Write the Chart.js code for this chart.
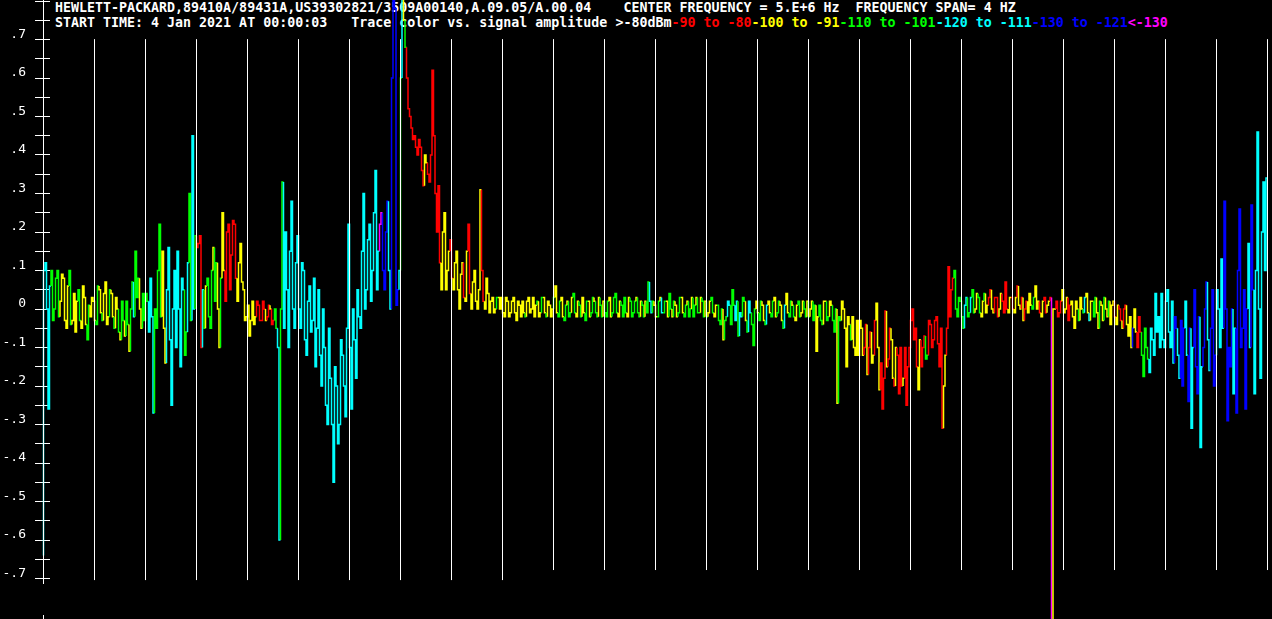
<!DOCTYPE html>
<html>
<head>
<meta charset="utf-8">
<script src="https://cdn.jsdelivr.net/npm/chart.js@4.4.1/dist/chart.umd.min.js"></script>
<style>
html,body{margin:0;padding:0;background:#000;}
#wrap{position:relative;width:1272px;height:619px;overflow:hidden;background:#000;}
#chart{position:absolute;left:0;top:0;z-index:1;}
.hdr{position:absolute;left:55px;font-family:"DejaVu Sans Mono",monospace;font-size:13.3px;font-weight:bold;line-height:15px;color:#fff;white-space:pre;z-index:0;}
</style>
</head>
<body>
<div id="wrap">
  <div class="hdr" id="line1" style="top:0px"></div>
  <div class="hdr" id="line2" style="top:15px"></div>
  <canvas id="chart" width="1272" height="619"></canvas>
</div>
<script>
// ---------- text ----------
const headerLine1 = "HEWLETT-PACKARD,89410A/89431A,US39302821/3509A00140,A.09.05/A.00.04    CENTER FREQUENCY = 5.E+6 Hz  FREQUENCY SPAN= 4 HZ";
const headerLine2 = "START TIME: 4 Jan 2021 AT 00:00:03   Trace color vs. signal amplitude >-80dBm";
const bandLabels = ["-90 to -80", "-100 to -91", "-110 to -101", "-120 to -111", "-130 to -121", "<-130"];
const bandColors = ["#ff0000", "#ffff00", "#00ff00", "#00ffff", "#0000ff", "#ff00ff"];
const yTickLabels = [".7", ".6", ".5", ".4", ".3", ".2", ".1", "0", "-.1", "-.2", "-.3", "-.4", "-.5", "-.6", "-.7"];

// ---------- trace: samples on whole steps (17 per division, 24 divisions) ----------
const traceValuesA = [
  -0.64, 0.12, -0.26, 0.1, 0.0, 0.1, 0.02, 0.08, -0.05, 0.1, -0.03, -0.06, 0.05, -0.05, 0.03, -0.08, -0.02,
  0.02, -0.04, 0.05, -0.03, 0.07, -0.02, 0.04, -0.05, 0.0, -0.08, -0.03, 0.02, -0.11, 0.07, 0.15, 0.08, -0.05,
  -0.03, 0.02, 0.08, -0.27, -0.05, 0.22, 0.15, -0.14, 0.16, -0.25, 0.1, 0.15, -0.15, 0.05, -0.06, 0.3, 0.45,
  0.19, 0.17, -0.1, -0.05, 0.08, -0.05, 0.16, 0.12, -0.1, 0.25, 0.02, 0.22, 0.14, 0.22, 0.02, 0.17, 0.05,
  -0.02, -0.07, 0.02, -0.02, 0.01, -0.03, 0.0, -0.02, 0.0, -0.03, -0.05, -0.6, 0.33, 0.2, -0.1, 0.28, -0.05,
  0.19, -0.05, 0.1, -0.12, 0.06, -0.03, -0.15, 0.05, -0.2, -0.1, -0.3, -0.18, -0.45, -0.2, -0.3, -0.12, -0.28,
  0.22, -0.26, -0.08, 0.05, -0.05, 0.3, 0.05, 0.22, 0.1, 0.36, 0.15, 0.25, 0.05, 0.28, 0.0, 0.82, 0.01,
  0.1, 0.82, 0.68, 0.52, 0.47, 0.45, 0.4, 0.42, 0.32, 0.38, 0.33, 0.62, 0.3, 0.32, 0.05, 0.25, 0.1,
  0.18, 0.05, 0.15, 0.0, 0.12, 0.02, 0.22, 0.0, 0.1, 0.0, 0.31, 0.02, 0.08, -0.01, 0.03, 0.0, 0.03,
  0.03, -0.02, 0.02, -0.01, 0.03, -0.03, 0.01, 0.02, -0.02, 0.03, 0.0, -0.02, 0.02, -0.01, 0.03, -0.02, 0.01,
  0.0, 0.06, -0.02, 0.03, -0.03, 0.02, -0.01, 0.04, -0.02, 0.01, 0.03, -0.03, 0.02, -0.01, 0.02, -0.02, 0.01,
  0.02, -0.02, 0.03, -0.01, 0.04, -0.02, 0.01, 0.03, -0.02, 0.02, -0.01, 0.03, -0.02, 0.01, 0.02, 0.07, -0.01,
  0.01, -0.02, 0.03, -0.01, 0.02, 0.04, -0.02, 0.01, -0.01, 0.03, -0.02, 0.02, 0.0, -0.02, 0.03, -0.01, 0.02,
  0.02, -0.01, 0.03, -0.02, 0.01, -0.04, -0.08, -0.02, 0.01, 0.05, -0.03, -0.07, -0.02, 0.02, -0.06, -0.01, -0.095,
  0.02, -0.03, 0.01, -0.04, 0.02, -0.02, 0.03, -0.01, 0.01, -0.05, 0.04, -0.02, 0.01, -0.03, 0.02, -0.01, 0.0,
  0.02, 0.0, -0.03, -0.11, 0.01, -0.04, 0.02, -0.02, 0.01, -0.06, -0.245, -0.03, 0.0, -0.15, -0.04, -0.02, -0.12,
  -0.12, -0.05, -0.1, -0.17, -0.06, -0.12, 0.015, -0.21, -0.26, -0.005, -0.13, -0.08, -0.2, -0.12, -0.1, -0.18, -0.25,
  -0.1, 0.0, -0.05, -0.21, -0.15, -0.07, -0.12, -0.04, -0.08, -0.02, -0.15, -0.31, -0.12, 0.11, 0.05, 0.1, -0.02,
  0.02, -0.05, 0.03, -0.01, 0.05, 0.0, 0.03, -0.02, 0.04, 0.01, 0.05, -0.01, 0.03, 0.0, 0.02, 0.07, -0.01,
  0.03, -0.01, 0.06, 0.0, -0.03, 0.02, 0.04, 0.0, 0.06, 0.02, -0.02, 0.03, 0.01, 0.03, 0.0, 0.02, -0.01,
  0.05, 0.0, -0.03, 0.02, -0.05, 0.0, 0.03, -0.01, 0.04, -0.03, 0.02, 0.03, -0.05, 0.01, 0.03, -0.02, -0.04,
  0.02, -0.04, 0.0, -0.05, 0.01, -0.07, -0.1, 0.0, -0.1, -0.06, -0.175, -0.1, -0.165, -0.08, 0.04, -0.02, 0.04,
  -0.1, 0.05, -0.1, -0.14, -0.05, -0.18, -0.2, 0.02, -0.24, -0.31, 0.05, -0.22, -0.36, -0.1, 0.07, -0.16, 0.05,
  -0.12, 0.0, 0.13, 0.28, -0.29, -0.15, -0.22, -0.27, 0.26, -0.05, -0.26, 0.17, 0.27, -0.22, 0.46, -0.18, 0.33,
  0.34
];
// samples on half steps, between the whole-step samples
const traceValuesB = [
  0.1, 0.0, 0.06, -0.03, 0.08, -0.02, 0.09, -0.03, 0.06, -0.04, 0.04, 0.02, -0.03, 0.06, -0.04, 0.01, 0.03,
  -0.03, 0.06, -0.01, 0.04, -0.04, 0.05, -0.02, 0.03, -0.06, 0.02, -0.07, -0.04, 0.0, -0.02, 0.03, 0.0, 0.04,
  0.04, -0.06, -0.02, 0.0, 0.1, -0.02, -0.05, 0.05, -0.08, 0.0, -0.1, 0.0, 0.08, -0.12, 0.12, -0.03, 0.0,
  0.16, 0.19, 0.05, 0.06, -0.02, 0.1, 0.02, 0.0, 0.08, 0.1, 0.2, 0.05, 0.23, 0.08, 0.12, 0.07, -0.03,
  0.01, -0.03, -0.04, 0.02, -0.03, 0.02, -0.03, 0.01, -0.04, 0.0, -0.1, 0.0, -0.05, 0.05, 0.15, 0.0, 0.12,
  0.0, 0.12, -0.08, 0.02, -0.06, 0.08, -0.05, -0.12, 0.0, -0.25, -0.05, -0.3, -0.15, -0.35, -0.08, -0.2, -0.05,
  -0.1, 0.0, -0.18, -0.02, 0.15, 0.0, 0.18, 0.02, 0.25, 0.05, 0.22, 0.1, 0.2, 0.1, 0.6, 0.78, 0.05,
  0.6, 0.75, 0.6, 0.5, 0.44, 0.42, 0.44, 0.36, 0.4, 0.35, 0.4, 0.45, 0.2, 0.12, 0.2, 0.05, 0.15,
  0.08, 0.12, 0.05, 0.09, 0.03, 0.15, 0.04, 0.07, 0.02, 0.05, 0.1, 0.0, 0.04, 0.02, -0.01, 0.03, 0.0,
  -0.01, 0.03, -0.02, 0.02, -0.01, 0.02, -0.02, -0.01, 0.02, -0.01, 0.03, 0.01, -0.02, 0.03, -0.01, 0.02, -0.02,
  0.03, -0.01, 0.02, -0.02, 0.01, -0.02, 0.03, -0.01, 0.02, -0.02, -0.01, 0.02, -0.02, 0.03, -0.01, 0.03, -0.02,
  -0.01, 0.02, -0.02, 0.03, -0.01, 0.02, -0.02, -0.01, 0.03, -0.02, 0.02, -0.01, 0.02, -0.02, -0.01, 0.02, 0.02,
  -0.02, 0.02, -0.01, 0.02, -0.02, 0.0, 0.02, -0.02, 0.03, -0.01, 0.01, -0.02, 0.03, 0.01, -0.01, 0.03, -0.02,
  -0.02, 0.02, -0.01, 0.01, -0.03, 0.0, -0.03, 0.02, -0.04, 0.01, 0.02, -0.01, 0.03, -0.03, 0.02, -0.04, 0.0,
  -0.01, 0.02, -0.03, 0.01, -0.01, 0.02, -0.02, 0.02, -0.03, 0.01, -0.01, 0.02, -0.02, 0.01, -0.02, 0.02, -0.02,
  -0.02, 0.02, 0.01, -0.02, -0.03, 0.02, -0.03, 0.02, -0.03, 0.0, -0.02, 0.02, -0.05, -0.02, -0.08, -0.1, -0.03,
  -0.03, -0.12, -0.04, -0.1, -0.14, -0.03, -0.1, -0.14, -0.18, -0.15, -0.05, -0.18, -0.1, -0.22, -0.2, -0.1, -0.15,
  -0.03, -0.08, -0.15, -0.08, -0.1, -0.13, -0.03, -0.1, -0.03, -0.09, -0.05, -0.2, -0.05, -0.02, 0.08, 0.0, 0.03,
  -0.02, 0.01, -0.02, 0.03, -0.01, 0.04, -0.01, 0.02, -0.01, 0.03, 0.0, 0.03, -0.02, 0.04, -0.01, 0.0, 0.03,
  0.0, 0.03, 0.01, 0.03, 0.0, -0.01, 0.01, 0.03, 0.0, -0.01, 0.02, -0.01, 0.02, -0.84, 0.0, -0.02, 0.02,
  -0.01, 0.03, 0.01, -0.02, 0.02, -0.03, 0.0, 0.03, -0.01, 0.02, -0.02, -0.01, 0.02, -0.03, 0.0, 0.02, 0.01,
  -0.02, 0.01, -0.03, 0.0, -0.04, -0.02, -0.05, -0.06, -0.02, -0.12, -0.05, -0.13, -0.05, -0.12, -0.06, -0.1, -0.08,
  0.02, -0.06, 0.02, -0.02, -0.12, -0.03, -0.05, -0.12, -0.05, -0.1, -0.15, -0.02, -0.15, 0.0, -0.08, -0.05, -0.2,
  0.05, -0.1, -0.05, 0.0, -0.1, 0.0, -0.05, 0.1, -0.1, 0.05, 0.0, -0.1, 0.05, 0.1, 0.0, 0.2, 0.1
];
// colour band of each sample: 0 red, 1 yellow, 2 green, 3 cyan, 4 blue, 5 magenta
const traceBandsA = [
  3,3,3,2,2,2,1,1,1,2,1,1,2,1,1,2,1,
  1,2,1,1,1,2,1,1,2,2,1,2,2,3,2,1,2,
  2,3,3,2,2,2,1,3,3,3,3,3,3,2,3,2,3,
  0,0,3,1,2,2,2,1,2,1,0,0,0,0,1,1,1,
  1,1,1,0,0,0,1,0,0,2,3,2,3,3,3,3,3,
  3,3,3,3,3,3,3,3,3,3,3,3,3,3,3,3,3,
  3,3,3,3,3,3,3,3,3,3,5,4,4,3,4,4,4,
  2,1,0,0,0,0,0,0,1,0,0,0,0,0,1,1,1,
  0,1,1,1,0,1,0,1,1,1,0,1,1,1,1,2,1,
  1,1,1,1,1,1,1,1,1,1,1,1,1,2,1,1,1,
  2,1,2,1,2,2,1,2,1,2,1,2,1,2,2,1,2,
  2,2,1,2,2,1,2,2,1,2,2,2,1,2,2,3,2,
  1,2,3,2,1,2,2,1,2,1,2,2,1,2,2,1,2,
  2,1,2,1,2,2,2,3,2,2,3,3,2,1,3,2,2,
  1,2,1,3,1,2,1,2,1,3,1,2,2,1,2,1,2,
  2,1,2,1,2,1,2,1,2,2,2,1,1,1,2,1,1,
  1,1,0,0,1,0,1,0,0,1,0,1,1,0,0,0,0,
  0,0,0,1,0,2,0,0,0,0,0,1,0,0,0,2,2,
  2,3,2,3,2,1,2,1,1,0,1,0,0,1,0,0,1,
  0,1,1,0,0,1,1,2,1,0,1,0,1,5,1,0,0,
  1,1,0,1,1,2,1,3,1,1,2,1,2,1,1,2,1,
  0,1,0,0,1,1,4,1,0,2,2,2,3,3,3,3,3,
  3,3,3,4,3,4,4,3,4,3,4,4,3,4,3,4,4,
  3,3,3,4,4,4,3,4,4,4,4,3,4,3,3,3,3,
  3
];
const traceBandsB = [
  3,3,2,2,2,1,1,1,2,1,1,2,1,1,2,1,1,
  2,1,2,1,1,1,2,1,1,2,2,1,2,2,2,1,2,
  2,3,3,2,2,1,1,3,3,3,3,3,3,2,2,3,2,
  0,0,2,2,2,1,2,1,1,0,0,0,0,1,1,1,1,
  1,1,1,0,0,0,0,1,0,2,3,2,3,3,3,3,3,
  3,3,3,3,3,3,3,3,3,3,3,3,3,3,3,3,3,
  3,3,3,3,3,3,3,3,3,3,5,4,4,3,4,4,3,
  3,2,0,0,0,0,0,0,1,0,0,0,0,1,1,1,0,
  1,1,1,1,1,0,1,1,1,1,0,1,1,1,1,1,1,
  1,1,1,1,1,1,1,2,1,1,1,2,1,1,2,1,1,
  1,2,1,2,1,2,2,1,2,1,2,1,2,1,2,2,1,
  2,1,2,2,1,2,2,1,2,2,1,2,2,1,2,3,1,
  2,1,2,1,2,1,1,2,1,2,1,2,2,1,2,2,1,
  1,2,1,2,2,1,2,3,2,3,2,3,2,2,3,2,1,
  2,1,2,1,2,1,2,1,2,1,2,1,1,2,1,2,1,
  1,2,1,2,2,1,2,1,2,1,2,1,1,1,1,1,1,
  1,0,1,0,1,1,1,0,0,0,1,0,0,0,1,0,0,
  0,0,1,0,0,2,0,0,0,0,0,1,0,0,2,2,2,
  2,3,2,2,1,2,1,2,1,0,1,0,1,0,0,1,0,
  1,0,1,1,0,1,2,1,1,1,0,1,0,1,0,0,1,
  1,0,1,1,1,1,2,1,3,1,2,1,1,2,1,1,1,
  1,0,1,0,1,1,1,0,0,2,2,3,3,3,3,3,3,
  3,3,3,4,3,4,3,4,3,4,4,3,4,4,3,4,4,
  3,3,4,4,4,3,4,4,4,4,3,4,3,3,3,3,3
];

// ---------- axis layout ----------
const samplesPerDivision = 17;
const divisions = 24;
const yMin = -0.8, yMax = 0.8, yStep = 0.05;
const gridTop = 0.7;
const gridBottomShort = -0.678, gridBottomLong = -0.704, longGridCount = 9;
const axisLineSpans = [[0.81, -0.714], [-0.795, -0.81]];

// ---------- header text ----------
document.getElementById('line1').textContent = headerLine1;
const l2 = document.getElementById('line2');
l2.appendChild(document.createTextNode(headerLine2));
bandLabels.forEach((t, i) => {
  const s = document.createElement('span');
  s.style.color = bandColors[i];
  s.textContent = t;
  l2.appendChild(s);
});

// ---------- datasets ----------
const traceData = [];
const traceBands = [];
traceValuesA.forEach((v, i) => {
  traceData.push({x: i, y: v});
  traceBands.push(traceBandsA[i]);
  if (i < traceValuesB.length) {
    traceData.push({x: i + 0.5, y: traceValuesB[i]});
    traceBands.push(traceBandsB[i]);
  }
});
const gridData = [];
axisLineSpans.forEach(([a, b]) => {
  gridData.push({x: 0, y: a}, {x: 0, y: b}, {x: 0, y: null});
});
for (let k = 1; k <= divisions; k++) {
  const xv = k * samplesPerDivision;
  gridData.push({x: xv, y: gridTop});
  gridData.push({x: xv, y: k <= longGridCount ? gridBottomLong : gridBottomShort});
  gridData.push({x: xv, y: null});
}

const tickColor = c => (c.tick && c.tick.value < -0.72) ? 'rgba(0,0,0,0)' : '#ffffff';
const labelFor = v => {
  const r = Math.round(v * 100);
  if (r % 10 !== 0) return '';
  const idx = (70 - r) / 10;
  return (idx >= 0 && idx < yTickLabels.length) ? yTickLabels[idx] : '';
};
const fitY = w => s => { s.width = w; s.paddingTop = 0; s.paddingBottom = 0; };

new Chart(document.getElementById('chart'), {
  type: 'line',
  data: {
    datasets: [
      {
        label: 'grid', data: gridData, xAxisID: 'x', yAxisID: 'y',
        borderColor: '#ffffff', borderWidth: 1, pointRadius: 0, spanGaps: false,
        order: 2, clip: false
      },
      {
        label: 'trace', data: traceData, xAxisID: 'x', yAxisID: 'y',
        stepped: 'after', borderWidth: 1.5, pointRadius: 0, order: 3, clip: false,
        borderColor: bandColors[3],
        borderJoinStyle: 'miter', borderCapStyle: 'butt',
        segment: { borderColor: c => bandColors[traceBands[c.p0DataIndex]] }
      }
    ]
  },
  options: {
    responsive: false,
    animation: false,
    events: [],
    layout: { padding: { top: 1, bottom: 2, left: 0, right: 0 } },
    plugins: { legend: { display: false }, tooltip: { enabled: false }, title: { display: false } },
    scales: {
      x: { type: 'linear', min: -1 / 6, max: -1 / 6 + 1229 / 3, display: false },
      y: {
        type: 'linear', position: 'left', min: yMin, max: yMax, weight: 0,
        afterFit: fitY(43),
        border: { display: false },
        grid: { drawOnChartArea: false, drawTicks: true, tickLength: 8, color: '#ffffff', tickColor: tickColor, lineWidth: 1 },
        ticks: {
          stepSize: yStep, autoSkip: false, padding: 9, labelOffset: -5, color: '#ffffff',
          font: { family: 'DejaVu Sans Mono', size: 13 }, callback: labelFor
        }
      },
      yIn: {
        type: 'linear', position: 'left', min: yMin, max: yMax, weight: -1,
        afterFit: fitY(0),
        border: { display: false },
        grid: { drawOnChartArea: false, drawTicks: true, tickLength: -7, color: '#ffffff', tickColor: tickColor, lineWidth: 1 },
        ticks: { stepSize: yStep, autoSkip: false, display: false }
      }
    }
  }
});
</script>
</body>
</html>
